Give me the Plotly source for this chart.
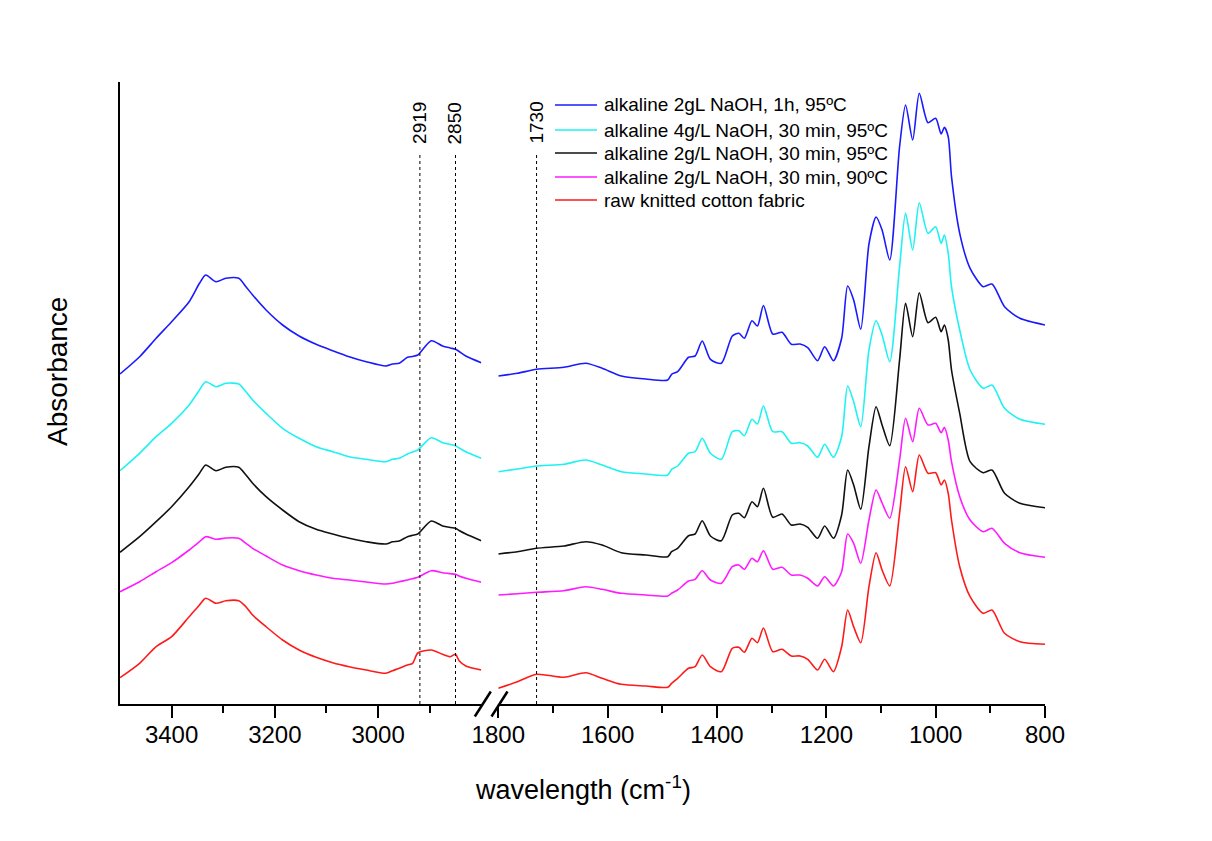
import plotly.graph_objects as go

# ---- wavenumber grids (cm-1) for the two segments of the broken axis ----
wn_high = [3500, 3462, 3430, 3400, 3366, 3346, 3334, 3314, 3295, 3270, 3256, 3243,
           3217, 3185, 3153, 3120, 3088, 3056, 3023, 2985, 2972, 2959, 2943, 2933,
           2923, 2897, 2875, 2860, 2850, 2843, 2830, 2800]
wn_low = [1800, 1765, 1730, 1680, 1640, 1610, 1575, 1530, 1490, 1483, 1472, 1452,
          1440, 1427, 1412, 1392, 1372, 1360, 1350, 1336, 1326, 1315, 1298, 1281,
          1264, 1248, 1234, 1216, 1203, 1187, 1172, 1161, 1150, 1137, 1122, 1109,
          1098, 1084, 1066, 1055, 1042, 1030, 1014, 1000, 990, 984, 977, 971, 956,
          937, 913, 897, 874, 846, 800]

# ---- stacked absorbance (offset for display) ----
alk1h_high = [3.30, 3.473, 3.657, 3.823, 4.023, 4.207, 4.29, 4.223, 4.257, 4.257, 4.173,
              4.09, 3.94, 3.79, 3.68, 3.597, 3.533, 3.473, 3.423, 3.38, 3.40, 3.407,
              3.467, 3.475, 3.49, 3.633, 3.58, 3.56, 3.547, 3.525, 3.48, 3.413]
alk4g_high = [2.333, 2.507, 2.673, 2.807, 2.99, 3.14, 3.223, 3.173, 3.207, 3.20, 3.123,
              3.04, 2.907, 2.757, 2.657, 2.573, 2.523, 2.473, 2.447, 2.423, 2.447, 2.457,
              2.50, 2.52, 2.54, 2.663, 2.613, 2.595, 2.583, 2.56, 2.523, 2.457]
alk95_high = [1.517, 1.673, 1.823, 1.973, 2.173, 2.307, 2.39, 2.333, 2.367, 2.367, 2.29,
              2.207, 2.073, 1.94, 1.823, 1.747, 1.70, 1.657, 1.623, 1.60, 1.623, 1.63,
              1.673, 1.687, 1.70, 1.83, 1.78, 1.765, 1.757, 1.735, 1.70, 1.633]
alk90_high = [1.123, 1.223, 1.323, 1.413, 1.54, 1.623, 1.673, 1.647, 1.66, 1.657, 1.607,
              1.557, 1.48, 1.39, 1.333, 1.29, 1.257, 1.24, 1.22, 1.20, 1.207, 1.223,
              1.24, 1.253, 1.267, 1.333, 1.313, 1.303, 1.297, 1.28, 1.257, 1.217]
raw_high = [0.263, 0.407, 0.573, 0.673, 0.873, 0.99, 1.057, 1.007, 1.033, 1.033, 0.973,
            0.89, 0.773, 0.64, 0.54, 0.467, 0.413, 0.373, 0.34, 0.307, 0.333, 0.357,
            0.39, 0.407, 0.51, 0.54, 0.497, 0.473, 0.497, 0.433, 0.38, 0.34]

alk1h_low = [3.28, 3.307, 3.347, 3.367, 3.407, 3.357, 3.28, 3.25, 3.24, 3.297,
             3.323, 3.467, 3.48, 3.63, 3.447, 3.407, 3.68, 3.707, 3.657, 3.833,
             3.78, 3.985, 3.70, 3.717, 3.597, 3.60, 3.563, 3.433, 3.573, 3.433,
             3.657, 4.18, 4.04, 3.747, 4.60, 4.87, 4.74, 4.44, 5.573, 5.99,
             5.64, 6.107, 5.813, 5.857, 5.70, 5.767, 5.673, 5.273, 4.707, 4.357,
             4.173, 4.20, 3.973, 3.857, 3.79]
alk4g_low = [2.323, 2.35, 2.38, 2.397, 2.44, 2.39, 2.323, 2.30, 2.29, 2.347,
             2.38, 2.507, 2.523, 2.657, 2.507, 2.447, 2.723, 2.733, 2.683, 2.847,
             2.80, 2.98, 2.723, 2.723, 2.607, 2.613, 2.58, 2.467, 2.597, 2.467,
             2.673, 3.18, 3.023, 2.773, 3.54, 3.833, 3.69, 3.423, 4.373, 4.907,
             4.54, 5.013, 4.707, 4.773, 4.607, 4.69, 4.507, 4.173, 3.74, 3.34,
             3.157, 3.19, 2.957, 2.847, 2.797]
alk95_low = [1.50, 1.523, 1.557, 1.58, 1.623, 1.59, 1.513, 1.49, 1.473, 1.523,
             1.557, 1.683, 1.70, 1.833, 1.68, 1.633, 1.89, 1.907, 1.863, 2.023,
             1.973, 2.157, 1.867, 1.90, 1.79, 1.80, 1.767, 1.657, 1.78, 1.657,
             1.89, 2.34, 2.19, 1.947, 2.573, 2.973, 2.79, 2.583, 3.44, 4.007,
             3.673, 4.113, 3.813, 3.867, 3.723, 3.79, 3.64, 3.34, 2.907, 2.423,
             2.313, 2.34, 2.107, 2.007, 1.963]
alk90_low = [1.09, 1.103, 1.117, 1.133, 1.173, 1.147, 1.107, 1.09, 1.08, 1.107,
             1.14, 1.23, 1.247, 1.333, 1.24, 1.207, 1.373, 1.39, 1.347, 1.457,
             1.423, 1.533, 1.347, 1.367, 1.29, 1.29, 1.257, 1.18, 1.273, 1.18,
             1.323, 1.70, 1.607, 1.407, 1.84, 2.14, 2.01, 1.857, 2.44, 2.857,
             2.623, 2.957, 2.79, 2.807, 2.713, 2.767, 2.64, 2.423, 2.073, 1.84,
             1.723, 1.757, 1.607, 1.513, 1.467]
raw_low = [0.157, 0.223, 0.297, 0.267, 0.313, 0.257, 0.197, 0.18, 0.167, 0.207,
           0.257, 0.357, 0.373, 0.49, 0.373, 0.323, 0.557, 0.567, 0.517, 0.657,
           0.613, 0.76, 0.523, 0.547, 0.48, 0.48, 0.447, 0.34, 0.447, 0.323,
           0.573, 0.94, 0.773, 0.613, 1.173, 1.513, 1.34, 1.18, 1.907, 2.373,
           2.123, 2.49, 2.307, 2.313, 2.19, 2.24, 2.107, 1.84, 1.373, 1.073,
           0.907, 0.94, 0.707, 0.623, 0.597]

series_names = ["alkaline 2gL NaOH, 1h, 95ºC",
                "alkaline 4g/L NaOH, 30 min, 95ºC",
                "alkaline 2g/L NaOH, 30 min, 95ºC",
                "alkaline 2g/L NaOH, 30 min, 90ºC",
                "raw knitted cotton fabric"]
series_colors = ["#1a1aff", "#1ef2f2", "#111111", "#ff1aff", "#ff1a1a"]
series_high = [alk1h_high, alk4g_high, alk95_high, alk90_high, raw_high]
series_low = [alk1h_low, alk4g_low, alk95_low, alk90_low, raw_low]

marked_bands_high = [2919, 2850]
marked_bands_low = [1730]

FONT = "Liberation Sans, Arial, sans-serif"

fig = go.Figure()
for name, color, yh, yl in zip(series_names, series_colors, series_high, series_low):
    line = dict(color=color, width=1.6, shape="spline", smoothing=0.7)
    fig.add_trace(go.Scatter(x=wn_high, y=yh, name=name, mode="lines", line=line,
                             xaxis="x", yaxis="y", showlegend=False))
    fig.add_trace(go.Scatter(x=wn_low, y=yl, name=name, mode="lines", line=line,
                             xaxis="x2", yaxis="y", showlegend=False))

W, H = 1212, 841
L, R, T, B = 120, 167, 82, 137
pw, ph = W - L - R, H - T - B
left_end = 361.3 / pw      # right edge of the high-wavenumber segment (paper)
right_start = 378.3 / pw   # left edge of the low-wavenumber segment (paper)

common_axis = dict(showline=True, linewidth=2, linecolor="black", ticks="outside",
                   ticklen=12, tickwidth=2, tickcolor="black", showgrid=False,
                   zeroline=False, tickfont=dict(size=24, color="black", family=FONT),
                   ticklabelstandoff=-4, anchor="y")

fig.update_layout(
    width=W, height=H,
    margin=dict(l=L, r=R, t=T, b=B),
    paper_bgcolor="white", plot_bgcolor="white",
    font=dict(family=FONT, color="black"),
    showlegend=False,
    xaxis=dict(domain=[0, left_end], range=[3500, 2800],
               tickvals=[3400, 3200, 3000],
               minor=dict(tickvals=[3300, 3100, 2900], ticklen=7, tickwidth=2,
                          ticks="outside", tickcolor="black"),
               **common_axis),
    xaxis2=dict(domain=[right_start, 1], range=[1800, 800],
                tickvals=[1800, 1600, 1400, 1200, 1000, 800],
                minor=dict(tickvals=[1700, 1500, 1300, 1100, 900], ticklen=7,
                           tickwidth=2, ticks="outside", tickcolor="black"),
                **common_axis),
    yaxis=dict(domain=[0, 1], range=[0, 6.22], showline=True, linewidth=2,
               linecolor="black", ticks="", showticklabels=False, showgrid=False,
               zeroline=False, anchor="x"),
)

shapes = []
annotations = []

# dotted guide lines at the marked bands, with rotated labels
line_top = (704 - 155) / ph
for ref, bands in (("x", marked_bands_high), ("x2", marked_bands_low)):
    for b in bands:
        shapes.append(dict(type="line", xref=ref, yref="paper", x0=b, x1=b,
                           y0=0, y1=line_top,
                           line=dict(color="black", width=1, dash="dot")))
        annotations.append(dict(xref=ref, yref="paper", x=b, y=(704 - 146) / ph,
                                text=str(b), textangle=-90, showarrow=False,
                                xanchor="center", yanchor="bottom",
                                font=dict(size=19, family=FONT, color="black")))

# axis break marks "//" straddling the gap
for anchor in (left_end + 1.5 / pw, right_start + 1.2 / pw):
    shapes.append(dict(type="line", xref="paper", xsizemode="pixel", xanchor=anchor,
                       x0=-8, x1=8, yref="paper", ysizemode="pixel", yanchor=0,
                       y0=-12.5, y1=12.5, line=dict(color="black", width=2.5)))

# legend
leg_y = [105, 130, 153, 177, 200]
for name, color, yy in zip(series_names, series_colors, leg_y):
    yp = (704 - yy) / ph
    shapes.append(dict(type="line", xref="paper", yref="paper",
                       x0=(555 - L) / pw, x1=(597 - L) / pw, y0=yp, y1=yp,
                       line=dict(color=color, width=1.6)))
    annotations.append(dict(xref="paper", yref="paper", x=(602 - L) / pw, y=yp,
                            text=name, showarrow=False, xanchor="left",
                            yanchor="middle",
                            font=dict(size=19, family=FONT, color="black")))

# axis titles
annotations.append(dict(xref="paper", yref="paper", x=(57 - L) / pw,
                        y=(704 - 372) / ph, text="Absorbance", textangle=-90,
                        showarrow=False, xanchor="center", yanchor="middle",
                        font=dict(size=28, family=FONT, color="black")))
annotations.append(dict(xref="paper", yref="paper", x=(583 - L) / pw,
                        y=(704 - 788) / ph, text="wavelength (cm<sup>-1</sup>)",
                        showarrow=False, xanchor="center", yanchor="middle",
                        font=dict(size=27, family=FONT, color="black")))

fig.update_layout(shapes=shapes, annotations=annotations)
fig.write_html("out.html")
